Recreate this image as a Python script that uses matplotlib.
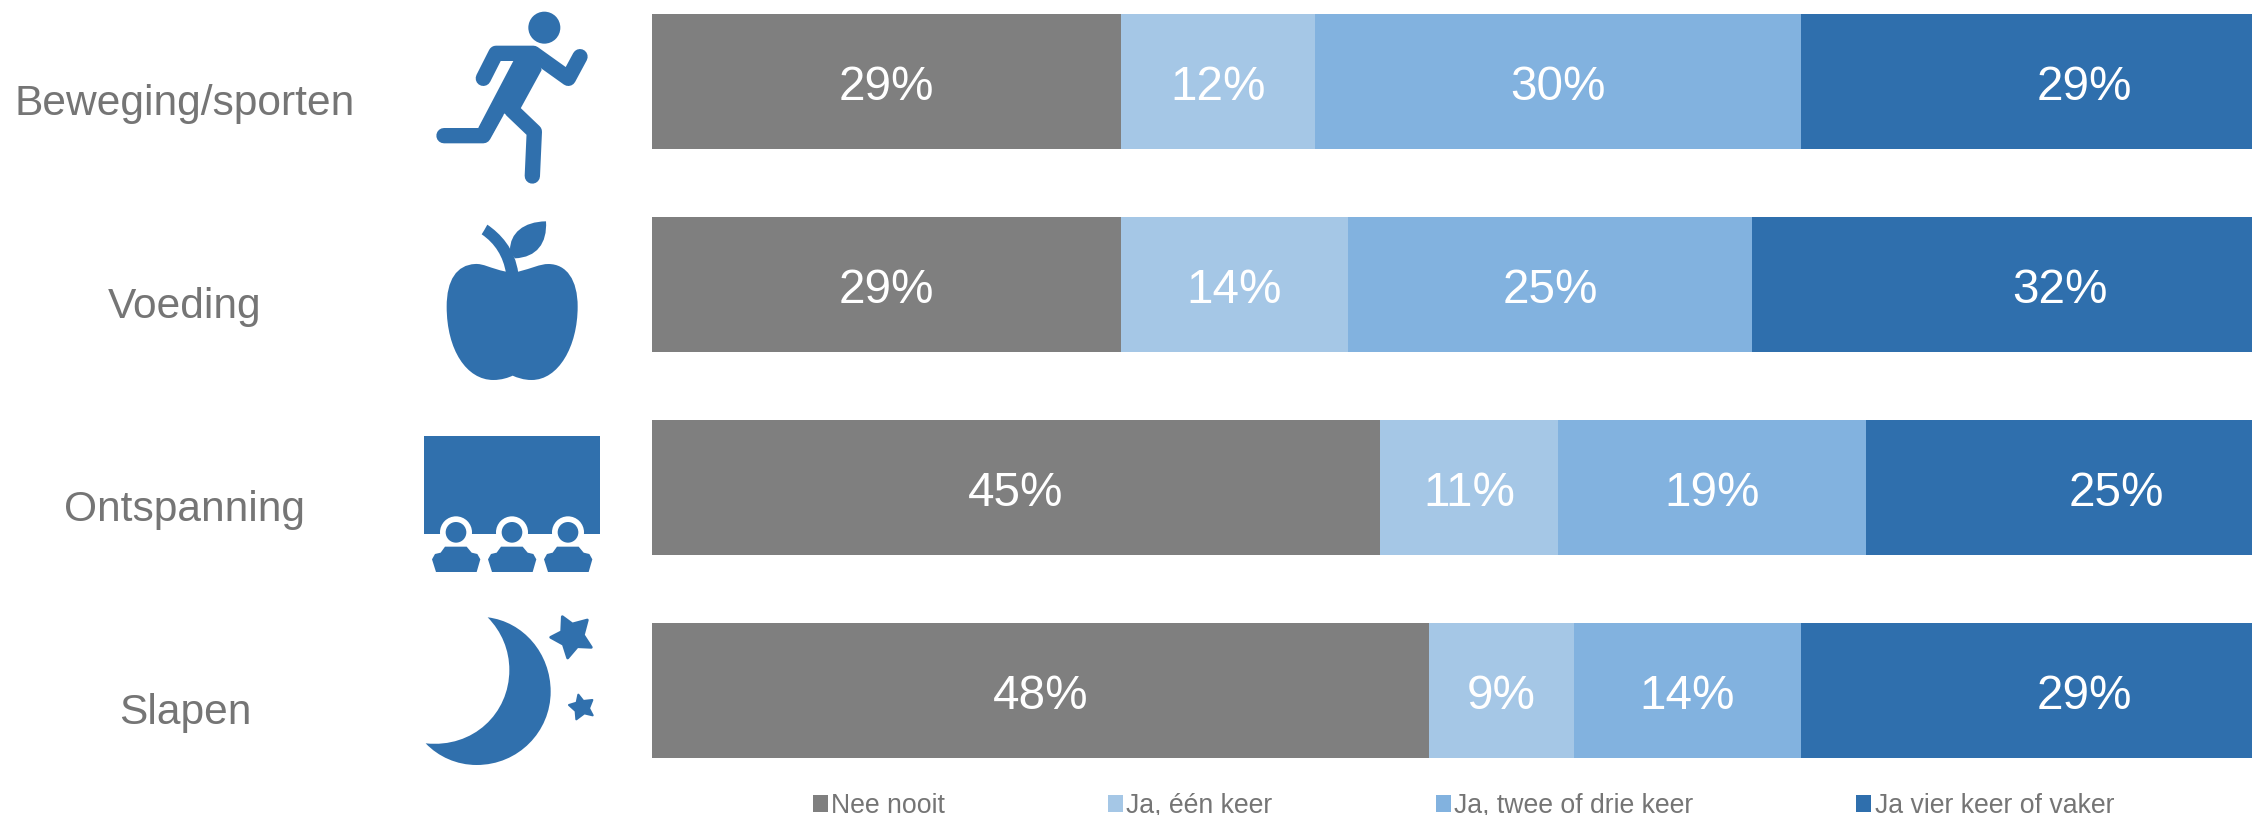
import numpy as np
import matplotlib
matplotlib.use("Agg")
import matplotlib.pyplot as plt
from matplotlib.path import Path
from matplotlib.patches import PathPatch, Polygon, Circle, Rectangle

plt.rcParams['font.family'] = ['Liberation Sans', 'DejaVu Sans']

# --- data ---
categorieen = ["Beweging/sporten", "Voeding", "Ontspanning", "Slapen"]
series = ["Nee nooit", "Ja, één keer", "Ja, twee of drie keer", "Ja vier keer of vaker"]
nee_nooit = [29, 29, 45, 48]
een_keer = [12, 14, 11, 9]
twee_drie = [30, 25, 19, 14]
vier_vaker = [29, 32, 25, 29]

kleuren = ["#7F7F7F", "#A5C7E6", "#82B2DF", "#2F6FAD"]
ICOON = "#3070AD"
TEKST = "#757575"

W, H = 2252, 815
PX_PER_PCT = 16.18
RIJ = 202.9
RIJ0 = 81.5

fig = plt.figure(figsize=(W / 100, H / 100), dpi=100)

# --- gestapelde balken ---
ax = fig.add_axes([652 / W, 0, (W - 652) / W, 1])
ax.set_xlim(0, (W - 652) / PX_PER_PCT)
ax.set_ylim((H - RIJ0) / RIJ, -RIJ0 / RIJ)
ax.axis("off")

y = np.arange(len(categorieen))
links = np.zeros(len(categorieen))
for i, (naam, waarden) in enumerate(zip(series, [nee_nooit, een_keer, twee_drie, vier_vaker])):
    ax.barh(y, waarden, left=links, height=135 / RIJ, color=kleuren[i], label=naam)
    # labels in de laatste serie staan iets rechts van het midden
    extra = 3.0 if i == 3 else 0
    for j, w in enumerate(waarden):
        ax.text(links[j] + w / 2 + extra, y[j] + 6 / RIJ, f"{w}%", color="white",
                fontsize=34.3, ha="center", va="center")
    links += np.array(waarden)

for j, cat in enumerate(categorieen):
    ax.text((185 - 652) / PX_PER_PCT, y[j] + 23 / RIJ, cat, color=TEKST, fontsize=30.6,
            ha="center", va="center", clip_on=False)

fig.legend(loc="center", bbox_to_anchor=(1463.5 / W, 1 - 806 / H), ncol=4, frameon=False,
           fontsize=19.2, labelcolor=TEKST, handlelength=0.56, handleheight=0.56,
           handletextpad=0.12, columnspacing=6.12, borderpad=0)

# --- iconen, in pixels van de figuur ---
ic = fig.add_axes([0, 0, 1, 1])
ic.set_xlim(0, W)
ic.set_ylim(H, 0)
ic.axis("off")
ic.patch.set_alpha(0)


def pt(p, y0):
    return (400 + p[0] / 3, y0 + p[1] / 3)


def lijn(punten, y0, dikte=46):
    xs, ys = zip(*[pt(p, y0) for p in punten])
    ic.plot(xs, ys, color=ICOON, lw=dikte / 3 * 0.72, solid_capstyle="round", solid_joinstyle="round")


def veelhoek(punten, y0, rand=0.0, kleur=ICOON):
    ic.add_patch(Polygon([pt(p, y0) for p in punten], closed=True, fc=kleur, ec=kleur, lw=rand, joinstyle="round"))


def cirkel(p, r, y0, kleur=ICOON):
    ic.add_patch(Circle(pt(p, y0), r / 3, fc=kleur, ec="none"))


def bezier(start, curves, y0):
    verts = [pt(start, y0)]
    codes = [Path.MOVETO]
    for c in curves:
        for p in c:
            verts.append(pt(p, y0))
            codes.append(Path.CURVE4)
    ic.add_patch(PathPatch(Path(verts, codes), fc=ICOON, ec="none"))


# hardloper
cirkel((433, 83), 48, 0)
lijn([(250, 235), (288, 160), (400, 160), (505, 235), (540, 170)], 0)
veelhoek([(340, 183), (400, 140), (425, 210), (362, 325), (310, 342), (270, 415), (235, 383)], 0)
lijn([(132, 407), (250, 407), (290, 335)], 0)
lijn([(335, 330), (403, 395), (397, 528)], 0)

# appel
bezier((318, 815), [[(270, 805), (250, 790), (225, 792)],
                    [(170, 795), (140, 840), (140, 920)],
                    [(140, 1050), (200, 1140), (280, 1140)],
                    [(305, 1140), (325, 1133), (338, 1127)],
                    [(352, 1133), (370, 1140), (395, 1140)],
                    [(475, 1140), (533, 1040), (533, 920)],
                    [(533, 840), (500, 792), (445, 792)],
                    [(420, 792), (395, 805), (355, 815)],
                    [(343, 815), (330, 815), (318, 815)]], 0)
bezier((262, 674), [[(300, 700), (345, 745), (355, 820)],
                    [(345, 820), (330, 820), (318, 820)],
                    [(310, 770), (285, 730), (245, 703)],
                    [(250, 695), (256, 685), (262, 674)]], 0)
bezier((438, 664), [[(370, 665), (330, 700), (330, 750)],
                    [(333, 760), (340, 770), (345, 775)],
                    [(410, 772), (442, 730), (438, 664)]], 0)

# bioscoop
ic.add_patch(Rectangle(pt((72, 108), 400), 528 / 3, 294 / 3, fc=ICOON, ec="none"))
for mx in [168, 336, 504]:
    cirkel((mx, 397), 48, 400, "white")
    cirkel((mx, 397), 31, 400)
    romp = [(-60, 516), (-72, 478), (-63, 462), (-46, 458), (-33, 440), (32, 440), (47, 458), (64, 462), (73, 478), (62, 516)]
    veelhoek([(mx + a, b) for a, b in romp], 400)

# maan en sterren
bezier((263, 652), [[(370, 665), (452, 760), (452, 875)],
                    [(452, 995), (355, 1095), (230, 1095)],
                    [(170, 1095), (115, 1070), (77, 1030)],
                    [(220, 1045), (328, 940), (328, 810)],
                    [(328, 750), (305, 695), (263, 652)]], 400)
veelhoek([(487, 650), (517, 672), (562, 660), (550, 705), (574, 742), (532, 740), (503, 774),
          (490, 733), (452, 712), (485, 695)], 400, rand=2)
veelhoek([(535, 884), (550, 903), (577, 900), (567, 925), (578, 946), (553, 940), (529, 958),
          (527, 933), (507, 915), (530, 908)], 400, rand=1.5)

fig.savefig("out.png", dpi=100)
